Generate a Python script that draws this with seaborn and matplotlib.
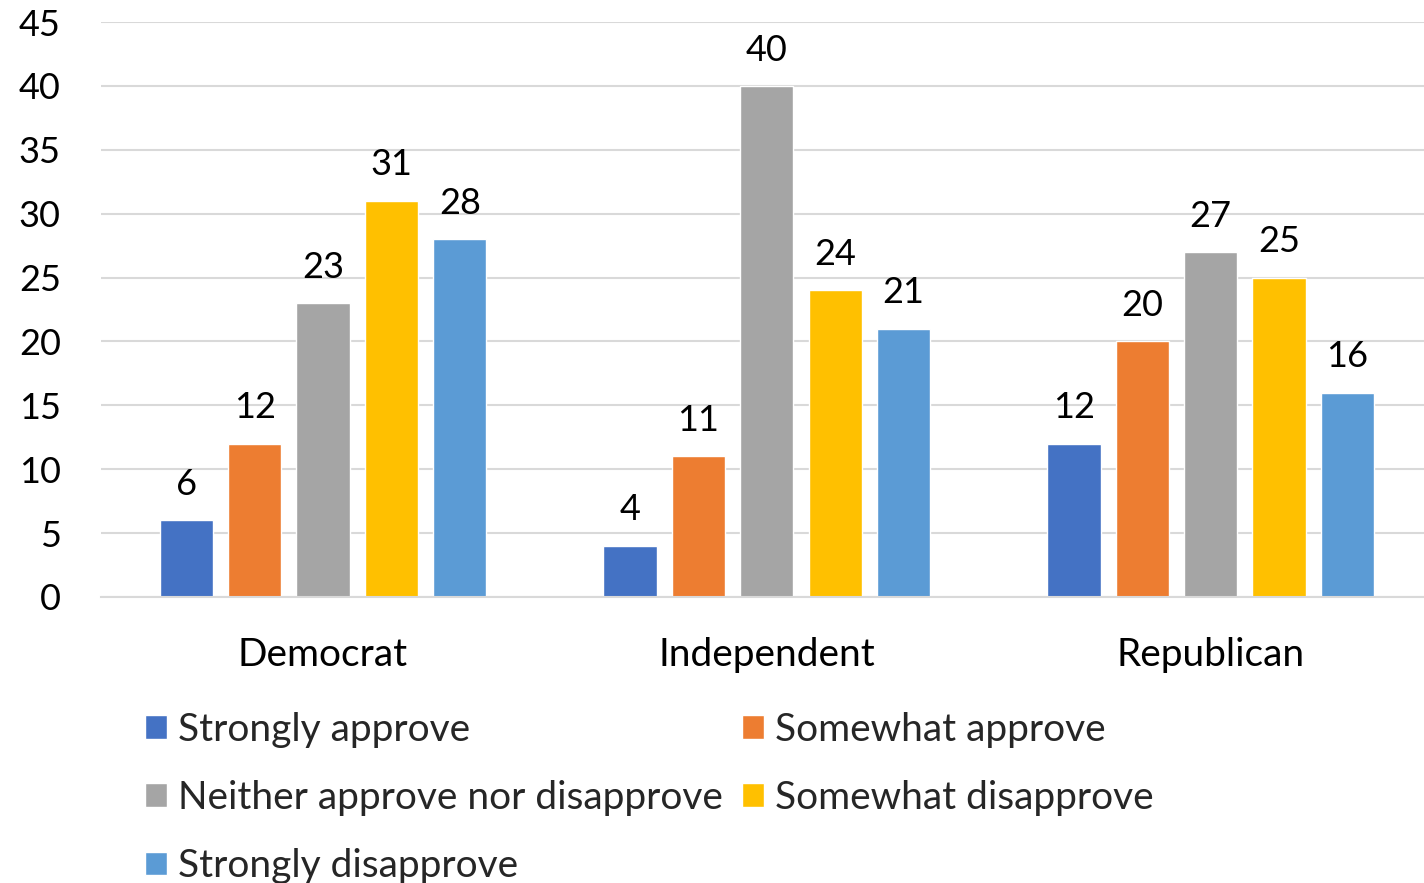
import pandas as pd
import matplotlib
matplotlib.use("Agg")
import matplotlib.pyplot as plt
import seaborn as sns

parties = ["Democrat", "Independent", "Republican"]
responses = [
    "Strongly approve",
    "Somewhat approve",
    "Neither approve nor disapprove",
    "Somewhat disapprove",
    "Strongly disapprove",
]
strongly_approve = [6, 4, 12]
somewhat_approve = [12, 11, 20]
neither = [23, 40, 27]
somewhat_disapprove = [31, 24, 25]
strongly_disapprove = [28, 21, 16]

colors = ["#4472C4", "#ED7D31", "#A5A5A5", "#FFC000", "#5B9BD5"]

series = [strongly_approve, somewhat_approve, neither,
          somewhat_disapprove, strongly_disapprove]
rows = []
for resp, vals in zip(responses, series):
    for party, v in zip(parties, vals):
        rows.append({"party": party, "response": resp, "value": v})
df = pd.DataFrame(rows)

sns.set_style("white")
plt.rcParams["font.family"] = ["Lato", "DejaVu Sans"]

fig = plt.figure(figsize=(14.24, 8.83), dpi=100)
ax = fig.add_axes([0.071, 0.324, 0.935, 0.651])

sns.barplot(data=df, x="party", y="value", hue="response",
            hue_order=responses, order=parties, palette=colors,
            width=0.77, gap=0.22, saturation=1, ax=ax)

for cont in ax.containers:
    ax.bar_label(cont, fmt="%d", padding=14, fontsize=26, color="#000000")

ax.set_ylim(0, 45)
ax.set_yticks(range(0, 46, 5))
ax.set_xlim(-0.5, 2.5)
ax.yaxis.grid(True, color="#D9D9D9", linewidth=1.5)
ax.set_axisbelow(True)
for s in ["top", "right", "left"]:
    ax.spines[s].set_visible(False)
ax.spines["bottom"].set_color("#D9D9D9")
ax.spines["bottom"].set_linewidth(1.5)
ax.tick_params(axis="both", length=0, colors="#000000")
ax.tick_params(axis="y", pad=29, labelsize=26)
ax.tick_params(axis="x", pad=29, labelsize=28)
ax.set_xlabel("")
ax.set_ylabel("")

# Excel fills the legend row by row; matplotlib goes column by column
handles, labels = ax.get_legend_handles_labels()
ax.get_legend().remove()
order = [0, 2, 4, 1, 3]
fig.legend([handles[i] for i in order], [labels[i] for i in order],
           ncol=2, loc="upper left", bbox_to_anchor=(0.1018, 0.194),
           frameon=False, fontsize=28, borderpad=0, borderaxespad=0,
           handlelength=0.57, handleheight=0.57,
           handletextpad=0.28, columnspacing=0.48, labelspacing=0.83)

fig.savefig("out.png", dpi=100)
